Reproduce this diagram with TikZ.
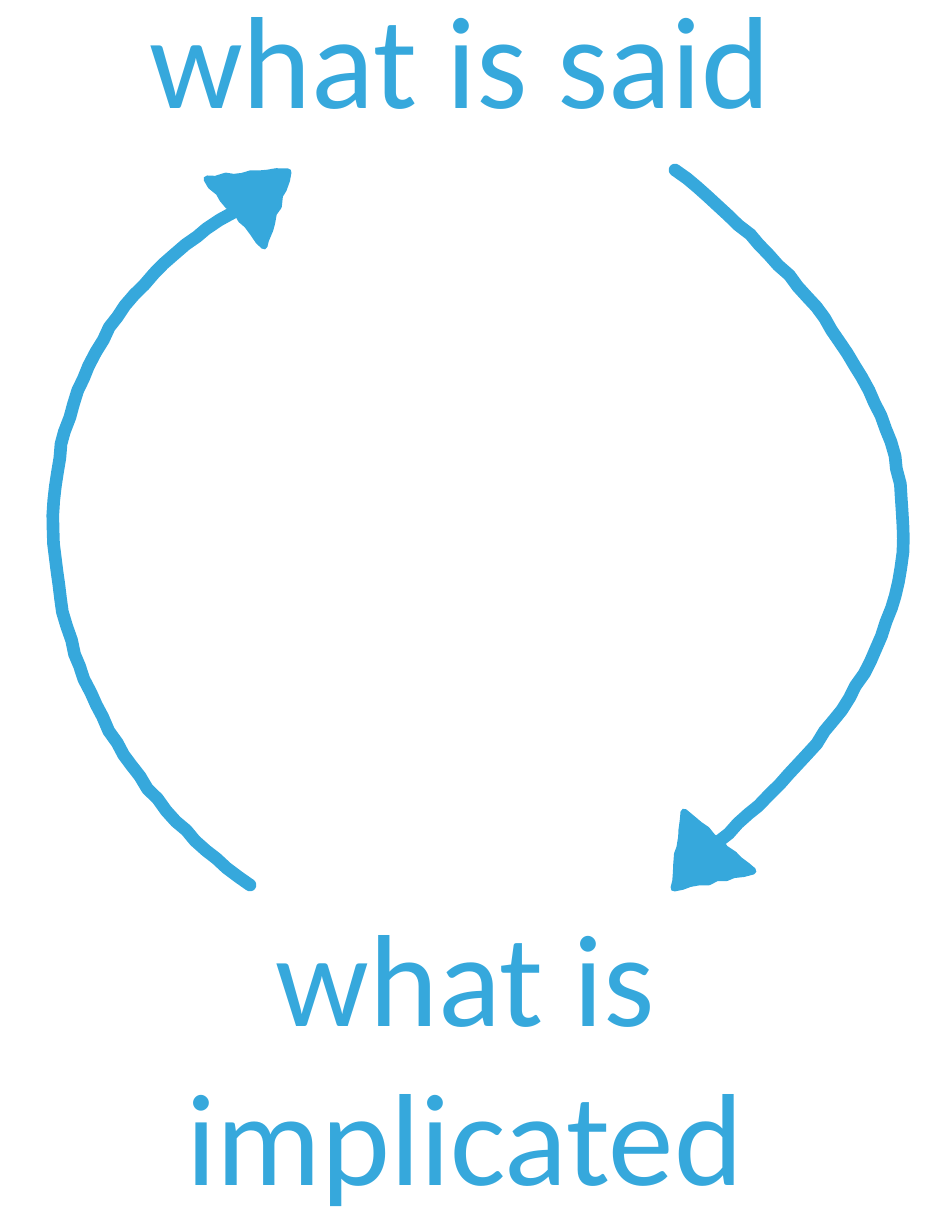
\documentclass[tikz,border=0pt]{standalone}
\usepackage{fontspec}
\setmainfont{Carlito}
\usepackage{tikz}
\usetikzlibrary{decorations.pathmorphing}
\definecolor{skyblue}{HTML}{36A8DC}
\tikzstyle{bigtext} = [text=skyblue, font=\fontsize{37.3}{45}\selectfont, align=center, inner sep=0pt]
\tikzstyle{sketch} = [draw=skyblue, line width=3.6pt, line cap=round, line join=round, decorate, decoration={random steps, segment length=4pt, amplitude=0.3pt}]
\tikzstyle{head} = [fill=skyblue, draw=skyblue, line width=2pt, line join=round, decorate, decoration={random steps, segment length=2.5pt, amplitude=0.4pt}]

\begin{document}
\begin{tikzpicture}
\useasboundingbox (0,0) rectangle (9.34,-12.10);
\node[bigtext, anchor=base] (said) at (4.60,-1.09) {what is said};
\node[bigtext, anchor=base] (implicated) at (4.65,-11.85) {what is\\implicated};

\coordinate (ltail) at (2.50,-8.85);
\coordinate (lend) at (2.35,-2.12);
\coordinate (ltip) at (2.88,-1.72);
\coordinate (lwa) at (2.07,-1.79);
\coordinate (lwb) at (2.64,-2.46);
\coordinate (rtail) at (6.75,-1.70);
\coordinate (rend) at (7.19,-8.41);
\coordinate (rtip) at (6.74,-8.88);
\coordinate (rwa) at (6.84,-8.12);
\coordinate (rwb) at (7.53,-8.71);

\draw[sketch] (ltail) .. controls (-0.09,-7.00) and (-0.09,-3.48) .. (lend);
\filldraw[head] (lwa) -- (ltip) -- (lwb) -- cycle;
\draw[sketch] (rtail) .. controls (9.50,-3.90) and (9.90,-6.10) .. (rend);
\filldraw[head] (rwa) -- (rtip) -- (rwb) -- cycle;
\end{tikzpicture}
\end{document}
